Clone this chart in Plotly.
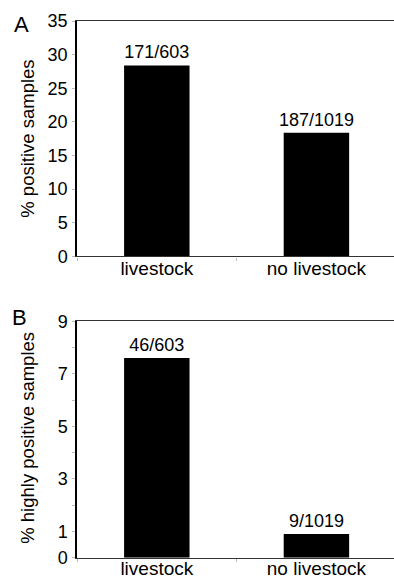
import plotly.graph_objects as go

categories = ["livestock", "no livestock"]
pos_values = [28.4, 18.4]
pos_labels = ["171/603", "187/1019"]
high_values = [7.6, 0.9]
high_labels = ["46/603", "9/1019"]

top_ticks = [0, 5, 10, 15, 20, 25, 30, 35]
bot_ticks = [0, 1, 2, 3, 4, 5, 6, 7, 8, 9]
bot_ticktext = ["0", "1", "", "3", "", "5", "", "7", "", "9"]

W, H = 394, 579
FONT = "Liberation Sans, Arial, sans-serif"

# empirical mapping of the rendered plotting area (vertical)
T_OFF, H_EFF = 11.0, 556.0


def px(xr):
    return xr / W


def py(yr):
    return 1 - (yr - T_OFF) / H_EFF


fig = go.Figure()
for vals, labs, xa, ya in [(pos_values, pos_labels, "x", "y"), (high_values, high_labels, "x2", "y2")]:
    fig.add_trace(go.Bar(x=categories, y=vals, text=labs, textposition="outside",
                         constraintext="none",
                         marker=dict(color="black", line=dict(width=0)), width=0.41,
                         textfont=dict(size=18, color="black", family=FONT), cliponaxis=False,
                         xaxis=xa, yaxis=ya))

xr = [-0.5, 1.486]
top_dom = [py(257), py(22)]
bot_dom = [py(557.7), py(321.7)]

xcommon = dict(domain=[px(77.0), 1], range=xr, showline=True, linecolor="#333", linewidth=1.2,
               mirror=True, ticks="outside", tickson="boundaries", ticklen=3, tickcolor="#bbb",
               tickfont=dict(size=19, color="black", family=FONT), showgrid=False, zeroline=False)
ycommon = dict(showline=True, linecolor="black", linewidth=1.5, ticks="outside", ticklen=3,
               tickcolor="#bbb", tickfont=dict(size=18, color="black", family=FONT),
               showgrid=False, zeroline=False, ticklabelstandoff=1)

fig.update_layout(
    width=W, height=H, margin=dict(l=0, r=0, t=0, b=0),
    paper_bgcolor="white", plot_bgcolor="white", showlegend=False,
    font=dict(family=FONT, color="black"),
    modebar=dict(bgcolor="rgba(0,0,0,0)", color="rgba(0,0,0,0)", activecolor="rgba(0,0,0,0)"),
    xaxis=dict(**xcommon, anchor="y", ticklabelstandoff=-5),
    yaxis=dict(**ycommon, domain=top_dom, range=[0, 35], tickvals=top_ticks, anchor="x"),
    xaxis2=dict(**xcommon, anchor="y2", ticklabelstandoff=-7),
    yaxis2=dict(**ycommon, domain=bot_dom, range=[0, 9], tickvals=bot_ticks,
                ticktext=bot_ticktext, anchor="x2"),
    annotations=[
        dict(text="% positive samples", textangle=-90, xref="paper", yref="paper",
             x=px(28), y=py(139.5), xanchor="center", yanchor="middle", showarrow=False,
             font=dict(size=18.5, family=FONT)),
        dict(text="% highly positive samples", textangle=-90, xref="paper", yref="paper",
             x=px(28), y=py(438), xanchor="center", yanchor="middle", showarrow=False,
             font=dict(size=18.5, family=FONT)),
        dict(text="A", xref="paper", yref="paper", x=px(21.5), y=py(25.5),
             xanchor="center", yanchor="middle", showarrow=False,
             font=dict(size=22, family=FONT)),
        dict(text="B", xref="paper", yref="paper", x=px(19.5), y=py(317.5),
             xanchor="center", yanchor="middle", showarrow=False,
             font=dict(size=22, family=FONT)),
    ],
)

POST = (
    "document.body.style.margin='0';"
    "document.body.style.overflow='hidden';"
    "var s=document.createElement('style');"
    "s.textContent='.modebar-container{display:none !important;}';"
    "document.head.appendChild(s);"
)

fig.write_html("out.html", post_script=POST)
